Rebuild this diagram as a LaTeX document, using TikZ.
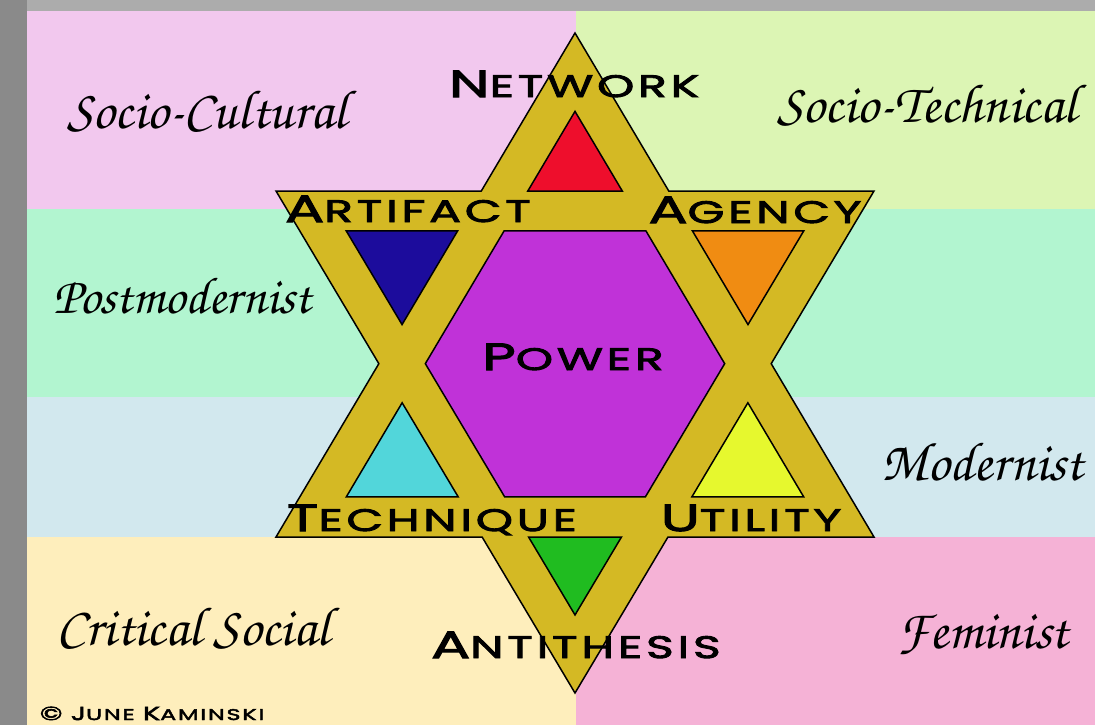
\documentclass[tikz,border=0pt]{standalone}
\usepackage{fontspec}
\usetikzlibrary{calc}
\newfontfamily\starfont{Poppins}[FakeStretch=1.53,LetterSpace=12,FakeBold=3]
\newfontfamily\chorus{TeX Gyre Chorus}
\newcommand\initial[1]{\scalebox{1.22}{#1}}

\definecolor{framegray}{RGB}{138,138,138}
\definecolor{rulergray}{RGB}{172,172,172}
\definecolor{socpink}{RGB}{242,200,238}
\definecolor{socgreen}{RGB}{220,245,180}
\definecolor{postmint}{RGB}{178,245,208}
\definecolor{modblue}{RGB}{210,232,238}
\definecolor{critcream}{RGB}{254,238,188}
\definecolor{fempink}{RGB}{245,178,214}
\definecolor{stargold}{RGB}{212,185,36}
\definecolor{powerpurple}{RGB}{192,50,216}
\definecolor{netred}{RGB}{238,14,44}
\definecolor{artnavy}{RGB}{28,12,156}
\definecolor{agorange}{RGB}{240,140,18}
\definecolor{techcyan}{RGB}{82,214,218}
\definecolor{utilyellow}{RGB}{230,248,46}
\definecolor{antigreen}{RGB}{32,188,32}

\begin{document}
\begin{tikzpicture}[x=1pt,y=-1pt,
    starword/.style={font=\starfont\fontsize{31}{31}\selectfont, inner sep=0pt, anchor=base},
    hand/.style={font=\chorus\fontsize{55}{55}\selectfont, inner sep=0pt, anchor=base},
    rim/.style={draw=black, line width=1.5pt, line join=miter}]
	\useasboundingbox (0,0) rectangle (1095,725);

	% background quarters and bands
	\fill[framegray] (0,0) rectangle (1095,725);
	\fill[rulergray] (27,0) rectangle (1095,11);
	\fill[socpink] (27,11) rectangle (576,209);
	\fill[socgreen] (576,11) rectangle (1095,209);
	\fill[postmint] (27,209) rectangle (1095,397);
	\fill[modblue] (27,397) rectangle (1095,537);
	\fill[critcream] (27,537) rectangle (576,725);
	\fill[fempink] (576,537) rectangle (1095,725);

	% outer triangles
	\coordinate (T) at (575,33);
	\coordinate (L2) at (276,537);
	\coordinate (R2) at (874,537);
	\coordinate (B) at (575,693);
	\coordinate (L1) at (276,191);
	\coordinate (R1) at (874,191);
	\coordinate (Iu) at (575,366.5);
	\coordinate (Id) at (575,360.9);

	% inner triangles
	\coordinate (ut) at ($(Iu)!0.765!(T)$);
	\coordinate (ul) at ($(Iu)!0.765!(L2)$);
	\coordinate (ur) at ($(Iu)!0.765!(R2)$);
	\coordinate (db) at ($(Id)!0.765!(B)$);
	\coordinate (dl) at ($(Id)!0.765!(L1)$);
	\coordinate (dr) at ($(Id)!0.765!(R1)$);

	\filldraw[rim, fill=stargold] (T) -- (intersection of T--R2 and L1--R1) -- (R1)
		-- (intersection of R1--B and T--R2) -- (R2)
		-- (intersection of L2--R2 and R1--B) -- (B)
		-- (intersection of B--L1 and L2--R2) -- (L2)
		-- (intersection of L2--T and B--L1) -- (L1)
		-- (intersection of L1--R1 and T--L2) -- cycle;

	\filldraw[rim, fill=powerpurple] (intersection of ut--ul and dl--dr)
		-- (intersection of ut--ur and dl--dr) -- (intersection of ut--ur and dr--db)
		-- (intersection of ul--ur and dr--db) -- (intersection of ul--ur and dl--db)
		-- (intersection of ut--ul and dl--db) -- cycle;

	\filldraw[rim, fill=netred] (ut) -- (intersection of ut--ul and L1--R1)
		-- (intersection of ut--ur and L1--R1) -- cycle;
	\filldraw[rim, fill=artnavy] (dl) -- (intersection of dl--dr and T--L2)
		-- (intersection of dl--db and T--L2) -- cycle;
	\filldraw[rim, fill=agorange] (dr) -- (intersection of dl--dr and T--R2)
		-- (intersection of dr--db and T--R2) -- cycle;
	\filldraw[rim, fill=techcyan] (ul) -- (intersection of ut--ul and B--L1)
		-- (intersection of ul--ur and B--L1) -- cycle;
	\filldraw[rim, fill=utilyellow] (ur) -- (intersection of ut--ur and B--R1)
		-- (intersection of ul--ur and B--R1) -- cycle;
	\filldraw[rim, fill=antigreen] (db) -- (intersection of dl--db and L2--R2)
		-- (intersection of dr--db and L2--R2) -- cycle;

	% star words
	\node[starword] (network) at (574,97) {\initial{N}ETWORK};
	\node[starword] (artifact) at (408,222) {\initial{A}RTIFACT};
	\node[starword] (agency) at (755,223) {\initial{A}GENCY};
	\node[starword] (power) at (573,370) {\initial{P}OWER};
	\node[starword] (technique) at (432,531) {\initial{T}ECHNIQUE};
	\node[starword] (utility) at (751,531) {\initial{U}TILITY};
	\node[starword] (antithesis) at (576,658) {\initial{A}NTITHESIS};

	% schools of thought
	\node[hand] (sociocult) at (207,128) {Socio-Cultural};
	\node[hand] (sociotech) at (927,122) {Socio-Technical};
	\node[hand, font=\chorus\fontsize{52}{52}\selectfont] (postmod) at (182,313) {Postmodernist};
	\node[hand] (modern) at (982,480) {Modernist};
	\node[hand] (critical) at (193,645) {Critical Social};
	\node[hand] (feminist) at (983,648) {Feminist};

	\node[starword, font=\starfont\fontsize{15.5}{15.5}\selectfont] (author) at (152,720)
		{\initial{©} \initial{J}UNE \initial{K}AMINSKI};
\end{tikzpicture}
\end{document}
